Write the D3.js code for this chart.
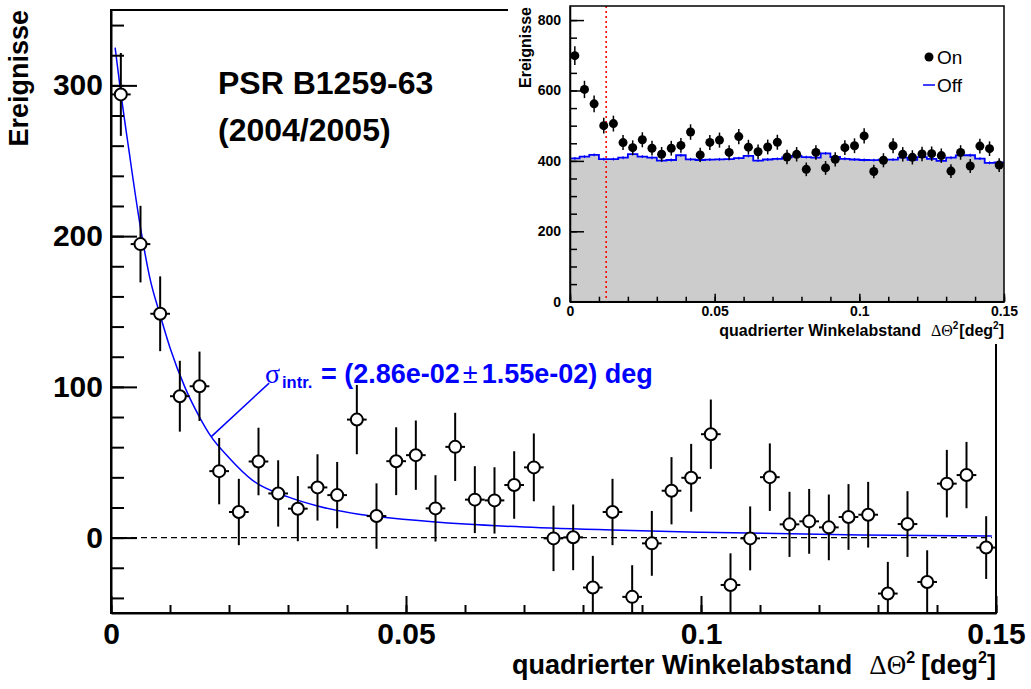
<!DOCTYPE html>
<html>
<head>
<meta charset="utf-8">
<script src="https://cdnjs.cloudflare.com/ajax/libs/d3/7.8.5/d3.min.js"></script>
<style>
  body { margin: 0; background: #fff; }
  svg { display: block; font-family: "Liberation Sans", Arial, Helvetica, sans-serif; }
</style>
</head>
<body>
<svg id="chart" width="1031" height="689"></svg>
<script>
// ----------------------
// data
// ----------------------
const binMin = 0, binMax = 0.15, nBins = 45;

// excess (On - Off) per bin, main plot
const excess = [294, 194.7, 148.5, 93.8, 100.4, 44.1, 17, 50.5, 29.3, 19.2,
  33.3, 28.2, 78.3, 14.3, 50.7, 54.7, 19.4, 60.2, 25.2, 24.7,
  34.9, 46.6, -0.5, 0.2, -33.1, 17, -39.3, -3.8, 31.1, 39.7,
  68.6, -31.4, -0.5, 40.1, 8.8, 10.8, 6.8, 13.7, 15.2, -37.1,
  9, -29.4, 35.8, 41.5, -6.6];
const excessErr = [27.5, 25.4, 24.8, 23.5, 23, 22, 22, 22.4, 22, 21.6,
  22, 22, 23, 21.7, 22.5, 23, 22, 22.6, 22.2, 22,
  22.4, 22.5, 21.7, 21.8, 21, 22, 21, 21.5, 22.3, 22.5,
  23, 21, 21.2, 22.4, 21.6, 21.5, 21.8, 21.8, 21.8, 21,
  21.8, 21, 22.4, 22, 20.8];

// fitted curve
const fitX = [0.0007, 0.0015, 0.003, 0.0049, 0.0066, 0.0083, 0.010, 0.0125, 0.015, 0.0168,
  0.02, 0.024, 0.03, 0.035, 0.042, 0.05, 0.06, 0.07, 0.085, 0.1, 0.127, 0.1493];
const fitY = [325, 300, 258, 208, 172, 148, 126, 100, 80, 68,
  53, 38, 27, 21, 15.5, 12, 9, 7, 5, 3.6, 1.8, 1];

// inset: On counts and Off histogram
const onCounts = [699, 603, 562, 500, 506, 452, 437.5, 460, 436, 419,
  436, 444, 482, 417, 452.5, 459, 424, 469, 439, 426,
  439.5, 453, 411, 418.7, 376, 424, 380, 404.5, 437.5, 443,
  471, 370, 401.7, 443, 418.7, 410, 419.6, 420.5, 415, 371,
  424, 385.5, 442, 434.7, 388];
const onErr = [26.4, 24.6, 23.7, 22.4, 22.5, 21.3, 20.9, 21.4, 20.9, 20.5,
  20.9, 21.1, 22, 20.4, 21.3, 21.4, 20.6, 21.7, 21, 20.6,
  21, 21.3, 20.3, 20.5, 19.4, 20.6, 19.5, 20.1, 20.9, 21,
  21.7, 19.2, 20, 21, 20.5, 20.2, 20.5, 20.5, 20.4, 19.3,
  20.6, 19.6, 21, 20.8, 19.7];
const offCounts = [407, 412, 417, 405, 405, 409, 419.5, 412, 409, 400.5,
  402.5, 416, 404.5, 402.5, 403.5, 404.5, 405, 408, 414, 401,
  404, 405.5, 410, 414, 410.5, 409.5, 421.5, 411, 406, 404,
  402.5, 402, 403.5, 403.5, 409, 403, 410.5, 406, 400, 409,
  415.5, 416, 406.5, 394.5, 395.5];
const offErr = [4, 4, 4, 4, 4, 4, 4, 4, 4, 4, 4, 4, 4, 4, 4,
  4, 4, 4, 4, 4, 4, 4, 4, 4, 4, 4, 4, 4, 4, 4,
  4, 4, 4, 4, 4, 4, 4, 4, 4, 4, 4, 4, 4, 4, 4];
const thetaCut = 0.0125;

// ticks / labels
const mainXTicks = [0, 0.05, 0.1, 0.15];
const mainXLabels = ["0", "0.05", "0.1", "0.15"];
const mainYTicks = [0, 100, 200, 300];
const insetXTicks = [0, 0.05, 0.1, 0.15];
const insetXLabels = ["0", "0.05", "0.1", "0.15"];
const insetYTicks = [0, 200, 400, 600, 800];

// ----------------------
// helpers
// ----------------------
const svg = d3.select("#chart");
const binW = (binMax - binMin) / nBins;
const centers = d3.range(nBins).map(i => binMin + (i + 0.5) * binW);
const symbolFont = "'Liberation Serif', 'DejaVu Serif', serif";

function styleAxis(g, fs, sw) {
  g.attr("font-size", fs).attr("font-family", null).attr("font-weight", "bold");
  g.select(".domain").attr("stroke-width", sw);
  g.selectAll(".tick line").attr("stroke-width", sw);
}

// ----------------------
// 1. main plot
// ----------------------
const main = { left: 111, right: 996, top: 10, bottom: 613 };
const x = d3.scaleLinear().domain([0, 0.15]).range([main.left, main.right]);
const y = d3.scaleLinear().domain([-50, 350]).range([main.bottom, main.top]);

svg.append("clipPath").attr("id", "clipMain").append("rect")
  .attr("x", main.left).attr("y", main.top)
  .attr("width", main.right - main.left).attr("height", main.bottom - main.top);

const mg = svg.append("g").attr("clip-path", "url(#clipMain)");

// zero line
mg.append("line")
  .attr("x1", x(0)).attr("x2", x(0.1493))
  .attr("y1", y(0)).attr("y2", y(0))
  .attr("stroke", "#000").attr("stroke-width", 1.3)
  .attr("stroke-dasharray", "6,4");

// fit curve
const fitPts = fitX.map((v, i) => [v, fitY[i]]);
mg.append("path")
  .datum(fitPts)
  .attr("fill", "none").attr("stroke", "#0000ff").attr("stroke-width", 1.5)
  .attr("d", d3.line().x(d => x(d[0])).y(d => y(d[1])).curve(d3.curveMonotoneX));

// annotation pointer
mg.append("line")
  .attr("x1", x(0.0170)).attr("y1", y(67))
  .attr("x2", x(0.0268)).attr("y2", y(102.5))
  .attr("stroke", "#0000ff").attr("stroke-width", 1.5);

const pts = centers.map((c, i) => ({ c, v: excess[i], e: excessErr[i] }));

mg.selectAll("line.vbar").data(pts).enter().append("line")
  .attr("class", "vbar")
  .attr("x1", d => x(d.c)).attr("x2", d => x(d.c))
  .attr("y1", d => y(d.v - d.e)).attr("y2", d => y(d.v + d.e))
  .attr("stroke", "#000").attr("stroke-width", 2);

mg.selectAll("line.hbar").data(pts).enter().append("line")
  .attr("class", "hbar")
  .attr("x1", d => x(d.c - binW / 2)).attr("x2", d => x(d.c + binW / 2))
  .attr("y1", d => y(d.v)).attr("y2", d => y(d.v))
  .attr("stroke", "#000").attr("stroke-width", 2);

mg.selectAll("circle.pt").data(pts).enter().append("circle")
  .attr("class", "pt")
  .attr("cx", d => x(d.c)).attr("cy", d => y(d.v)).attr("r", 6)
  .attr("fill", "#fff").attr("stroke", "#000").attr("stroke-width", 2);

// axes
const gxMinor = svg.append("g").attr("transform", `translate(0,${main.bottom})`)
  .call(d3.axisBottom(x).tickValues(x.ticks(15)).tickSize(-8).tickFormat(""));
gxMinor.select(".domain").remove();
gxMinor.selectAll(".tick line").attr("stroke-width", 2);

const gx = svg.append("g").attr("transform", `translate(0,${main.bottom})`)
  .call(d3.axisBottom(x).tickValues(mainXTicks).tickSize(-17).tickSizeOuter(0)
    .tickPadding(10).tickFormat((d, i) => mainXLabels[i]));
styleAxis(gx, 30, 2);

const gyMinor = svg.append("g").attr("transform", `translate(${main.left},0)`)
  .call(d3.axisLeft(y).tickValues(y.ticks(20)).tickSize(-13).tickFormat(""));
gyMinor.select(".domain").remove();
gyMinor.selectAll(".tick line").attr("stroke-width", 2);

const gy = svg.append("g").attr("transform", `translate(${main.left},0)`)
  .call(d3.axisLeft(y).tickValues(mainYTicks).tickSize(-26).tickSizeOuter(0)
    .tickPadding(8).tickFormat(d3.format("d")));
styleAxis(gy, 30, 2);

// frame
svg.append("rect")
  .attr("x", main.left).attr("y", main.top)
  .attr("width", main.right - main.left).attr("height", main.bottom - main.top)
  .attr("fill", "none").attr("stroke", "#000").attr("stroke-width", 2);

// titles
svg.append("text")
  .attr("transform", "translate(28,10) rotate(-90)")
  .attr("text-anchor", "end")
  .attr("font-size", 27).attr("font-weight", "bold")
  .text("Ereignisse");

const xt = svg.append("text")
  .attr("x", main.right).attr("y", 674)
  .attr("text-anchor", "end")
  .attr("font-size", 27).attr("font-weight", "bold");
xt.append("tspan").text("quadrierter Winkelabstand");
xt.append("tspan").attr("dx", 17).attr("font-weight", "normal")
  .attr("font-family", symbolFont).text("ΔΘ");
xt.append("tspan").attr("dy", -11).attr("font-size", 16).text("2");
xt.append("tspan").attr("dy", 11).attr("dx", 6).text("[deg");
xt.append("tspan").attr("dy", -11).attr("font-size", 16).text("2");
xt.append("tspan").attr("dy", 11).text("]");

svg.append("text").attr("x", 218).attr("y", 94)
  .attr("font-size", 32).attr("font-weight", "bold").text("PSR B1259-63");
svg.append("text").attr("x", 218).attr("y", 141)
  .attr("font-size", 32).attr("font-weight", "bold").text("(2004/2005)");

const ann = svg.append("text").attr("fill", "#0000ff").attr("font-weight", "bold");
ann.append("tspan").attr("x", 265).attr("y", 382.5)
  .attr("font-size", 28).attr("font-weight", "normal")
  .attr("font-family", symbolFont).text("σ");
ann.append("tspan").attr("x", 282).attr("y", 387.5)
  .attr("font-size", 16.5).text("intr.");
ann.append("tspan").attr("x", 321).attr("y", 382.5)
  .attr("font-size", 27).text("= (2.86e-02");
ann.append("tspan").attr("dx", 3).attr("font-size", 27)
  .attr("font-weight", "normal").text("±");
ann.append("tspan").attr("dx", 4).attr("font-size", 27)
  .text("1.55e-02) deg");

// ----------------------
// 2. inset
// ----------------------
svg.append("rect")
  .attr("x", 508).attr("y", 0).attr("width", 523).attr("height", 344)
  .attr("fill", "#fff");

const ins = { left: 570, right: 1004, top: 6, bottom: 301.7 };
const xi = d3.scaleLinear().domain([0, 0.15]).range([ins.left, ins.right]);
const yi = d3.scaleLinear().domain([0, 840]).range([ins.bottom, ins.top]);

const offPts = offCounts.map((v, i) => [binMin + i * binW, v]);
offPts.push([binMax, offCounts[nBins - 1]]);

svg.append("path").datum(offPts)
  .attr("fill", "#cccccc")
  .attr("d", d3.area().x(d => xi(d[0])).y0(yi(0)).y1(d => yi(d[1])).curve(d3.curveStepAfter));

svg.append("path").datum(offPts)
  .attr("fill", "none").attr("stroke", "#0000ff").attr("stroke-width", 1.8)
  .attr("d", d3.line().x(d => xi(d[0])).y(d => yi(d[1])).curve(d3.curveStepAfter));

svg.selectAll("line.offerr").data(centers).enter().append("line")
  .attr("class", "offerr")
  .attr("x1", d => xi(d)).attr("x2", d => xi(d))
  .attr("y1", (d, i) => yi(offCounts[i] - offErr[i]))
  .attr("y2", (d, i) => yi(offCounts[i] + offErr[i]))
  .attr("stroke", "#0000ff").attr("stroke-width", 1.2);

svg.append("line")
  .attr("x1", xi(thetaCut)).attr("x2", xi(thetaCut))
  .attr("y1", ins.top).attr("y2", ins.bottom)
  .attr("stroke", "#ff0000").attr("stroke-width", 1.6)
  .attr("stroke-dasharray", "2,3");

const onPts = centers.map((c, i) => ({ c, v: onCounts[i], e: onErr[i] }));
svg.selectAll("line.onerr").data(onPts).enter().append("line")
  .attr("class", "onerr")
  .attr("x1", d => xi(d.c)).attr("x2", d => xi(d.c))
  .attr("y1", d => yi(d.v - d.e)).attr("y2", d => yi(d.v + d.e))
  .attr("stroke", "#000").attr("stroke-width", 1.5);
svg.selectAll("circle.on").data(onPts).enter().append("circle")
  .attr("class", "on")
  .attr("cx", d => xi(d.c)).attr("cy", d => yi(d.v)).attr("r", 4.5)
  .attr("fill", "#000");

// inset axes
const gxiMinor = svg.append("g").attr("transform", `translate(0,${ins.bottom})`)
  .call(d3.axisBottom(xi).tickValues(xi.ticks(15)).tickSize(-5).tickFormat(""));
gxiMinor.select(".domain").remove();
gxiMinor.selectAll(".tick line").attr("stroke-width", 1.5);

const gxi = svg.append("g").attr("transform", `translate(0,${ins.bottom})`)
  .call(d3.axisBottom(xi).tickValues(insetXTicks).tickSize(-8).tickSizeOuter(0)
    .tickPadding(4).tickFormat((d, i) => insetXLabels[i]));
styleAxis(gxi, 14, 1.5);

const gyiMinor = svg.append("g").attr("transform", `translate(${ins.left},0)`)
  .call(d3.axisLeft(yi).tickValues(yi.ticks(16)).tickSize(-7).tickFormat(""));
gyiMinor.select(".domain").remove();
gyiMinor.selectAll(".tick line").attr("stroke-width", 1.5);

const gyi = svg.append("g").attr("transform", `translate(${ins.left},0)`)
  .call(d3.axisLeft(yi).tickValues(insetYTicks).tickSize(-14).tickSizeOuter(0)
    .tickPadding(9).tickFormat(d3.format("d")));
styleAxis(gyi, 14, 1.5);

svg.append("rect")
  .attr("x", ins.left).attr("y", ins.top)
  .attr("width", ins.right - ins.left).attr("height", ins.bottom - ins.top)
  .attr("fill", "none").attr("stroke", "#000").attr("stroke-width", 1.5);

// inset titles
svg.append("text")
  .attr("transform", "translate(531,7) rotate(-90)")
  .attr("text-anchor", "end")
  .attr("font-size", 16).attr("font-weight", "bold")
  .text("Ereignisse");

const xti = svg.append("text")
  .attr("x", ins.right).attr("y", 336)
  .attr("text-anchor", "end")
  .attr("font-size", 16).attr("font-weight", "bold");
xti.append("tspan").text("quadrierter Winkelabstand");
xti.append("tspan").attr("dx", 10).attr("font-weight", "normal")
  .attr("font-family", symbolFont).text("ΔΘ");
xti.append("tspan").attr("dy", -7).attr("font-size", 10).text("2");
xti.append("tspan").attr("dy", 7).attr("dx", 1).text("[deg");
xti.append("tspan").attr("dy", -7).attr("font-size", 10).text("2");
xti.append("tspan").attr("dy", 7).text("]");

// legend
const leg = svg.append("g");
leg.append("circle").attr("cx", 929).attr("cy", 57).attr("r", 4.5).attr("fill", "#000");
leg.append("text").attr("x", 937).attr("y", 64).attr("font-size", 19).text("On");
leg.append("line").attr("x1", 923).attr("x2", 935).attr("y1", 85).attr("y2", 85)
  .attr("stroke", "#0000ff").attr("stroke-width", 1.5);
leg.append("text").attr("x", 937).attr("y", 92).attr("font-size", 19).text("Off");
</script>
</body>
</html>
